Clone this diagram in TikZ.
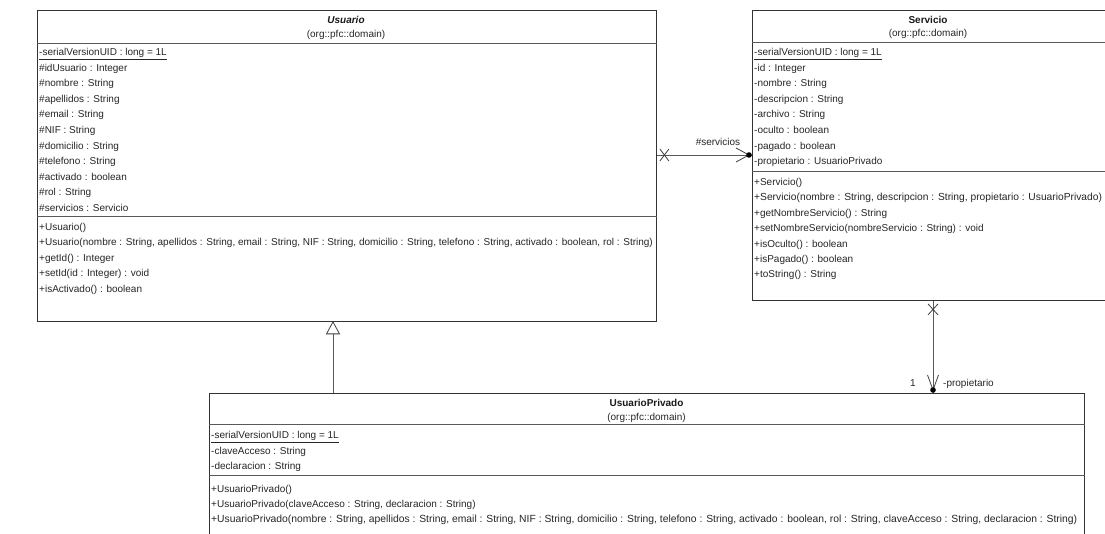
\documentclass[tikz,border=0pt]{standalone}
\usepackage{fontspec}
\setmainfont{Liberation Sans}
\usetikzlibrary{calc}
\begin{document}
\begin{tikzpicture}[x=1pt,y=-1pt,
  txt/.style={font=\fontsize{10}{12}\selectfont, inner sep=0pt, anchor=base west, text=black!85},
  ttl/.style={font=\fontsize{10}{12}\selectfont\bfseries, inner sep=0pt, anchor=base, text=black!90},
  pkg/.style={font=\fontsize{10}{12}\selectfont, inner sep=0pt, anchor=base, text=black!85},
  classbox/.style={draw=black!80, line width=0.9pt, fill=white, inner sep=0pt, anchor=north west},
  sep/.style={draw=black!65, line width=0.9pt},
  conn/.style={draw=black!65, line width=0.8pt},
  endglyph/.style={draw=black!75, line width=0.8pt},
]
\clip (0,0) rectangle (1105,534);
\fill[white] (0,0) rectangle (1105,534);

% ---------- class boxes ----------
\node[classbox, minimum width=619pt, minimum height=311pt] (usuario) at (37,10) {};
\node[classbox, minimum width=360pt, minimum height=290pt] (servicio) at (752,10) {};
\node[classbox, minimum width=875pt, minimum height=160pt] (uprivado) at (209,393) {};

% compartment separators
\draw[sep] (usuario.west |- 0,43) -- (usuario.east |- 0,43);
\draw[sep] (usuario.west |- 0,216) -- (usuario.east |- 0,216);
\draw[sep] (servicio.west |- 0,42) -- (servicio.east |- 0,42);
\draw[sep] (servicio.west |- 0,171) -- (servicio.east |- 0,171);
\draw[sep] (uprivado.west |- 0,424) -- (uprivado.east |- 0,424);
\draw[sep] (uprivado.west |- 0,475) -- (uprivado.east |- 0,475);

% ---------- Usuario ----------
\node[ttl, font=\fontsize{10}{12}\selectfont\bfseries\itshape] (u-name) at (346,23.5) {Usuario};
\node[pkg] (u-pkg) at (346,38) {(org::pfc::domain)};
\node[txt] (u-uid) at (39,55.5) {\underline{-serialVersionUID : long = 1L}};
\foreach \t [count=\i] in {{\#idUsuario : Integer},{\#nombre : String},{\#apellidos : String},
  {\#email : String},{\#NIF : String},{\#domicilio : String},{\#telefono : String},
  {\#activado : boolean},{\#rol : String},{\#servicios : Servicio}}
  \node[txt] (u-a\i) at (39,{55.5+15.6*\i}) {\t};
\foreach \t [count=\i from 0] in {{+Usuario()},
  {+Usuario(nombre : String, apellidos : String, email : String, NIF : String, domicilio : String, telefono : String, activado : boolean, rol : String)},
  {+getId() : Integer},{+setId(id : Integer) : void},{+isActivado() : boolean}}
  \node[txt] (u-m\i) at (39,{230.5+15.5*\i}) {\t};

% ---------- Servicio ----------
\node[ttl] (s-name) at (928,23.5) {Servicio};
\node[pkg] (s-pkg) at (928,37) {(org::pfc::domain)};
\node[txt] (s-uid) at (754,55.5) {\underline{-serialVersionUID : long = 1L}};
\foreach \t [count=\i] in {{-id : Integer},{-nombre : String},{-descripcion : String},
  {-archivo : String},{-oculto : boolean},{-pagado : boolean},{-propietario : UsuarioPrivado}}
  \node[txt] (s-a\i) at (754,{55.5+15.6*\i}) {\t};
\node[txt] (s-m0) at (754,185.5) {+Servicio()};
\node[txt, font=\fontsize{10.25}{12}\selectfont] (s-m1) at (754,200.9)
  {+Servicio(nombre : String, descripcion : String, propietario : UsuarioPrivado)};
\foreach \t [count=\i from 2] in {{+getNombreServicio() : String},
  {+setNombreServicio(nombreServicio : String) : void},
  {+isOculto() : boolean},{+isPagado() : boolean},{+toString() : String}}
  \node[txt] (s-m\i) at (754,{185.5+15.4*\i}) {\t};

% ---------- UsuarioPrivado ----------
\node[ttl] (p-name) at (646.5,406) {UsuarioPrivado};
\node[pkg] (p-pkg) at (646.5,420) {(org::pfc::domain)};
\node[txt] (p-uid) at (211,438.5) {\underline{-serialVersionUID : long = 1L}};
\foreach \t [count=\i] in {{-claveAcceso : String},{-declaracion : String}}
  \node[txt] (p-a\i) at (211,{438.5+15.5*\i}) {\t};
\node[txt] (p-m0) at (211,492) {+UsuarioPrivado()};
\node[txt] (p-m1) at (211,507.3) {+UsuarioPrivado(claveAcceso : String, declaracion : String)};
\node[txt, font=\fontsize{10.35}{12}\selectfont] (p-m2) at (211,522.6)
  {+UsuarioPrivado(nombre : String, apellidos : String, email : String, NIF : String, domicilio : String, telefono : String, activado : boolean, rol : String, claveAcceso : String, declaracion : String)};

% ---------- generalization UsuarioPrivado -> Usuario ----------
\coordinate (g-tip) at (usuario.south -| 333,0);
\coordinate (g-base) at ($(g-tip)+(0,12)$);
\draw[conn] (uprivado.north -| g-tip) -- (g-base);
\draw[endglyph, fill=white] (g-tip) -- ($(g-base)+(-6.5,0)$) -- ($(g-base)+(6.5,0)$) -- cycle;

% ---------- association Usuario -> Servicio ----------
\coordinate (a-start) at (usuario.east |- 0,155);
\coordinate (a-end) at (servicio.west |- 0,155);
\draw[conn] (a-start) -- (a-end);
\draw[endglyph] ($(a-start)+(3,-6)$) -- ($(a-start)+(12,6)$)
            ($(a-start)+(3,6)$) -- ($(a-start)+(12,-6)$);
\draw[endglyph] ($(a-end)+(-16,-7)$) -- ($(a-end)+(-3,0)$) -- ($(a-end)+(-16,7)$);
\fill[black] ($(a-end)+(-3,0)$) circle (2.8);
\node[pkg, anchor=base] (a-role) at (718,145.5) {\#servicios};

% ---------- association Servicio -> UsuarioPrivado ----------
\coordinate (b-start) at (servicio.south -| 933,0);
\coordinate (b-end) at (uprivado.north -| 933,0);
\draw[conn] (b-start) -- (b-end);
\draw[endglyph] ($(b-start)+(-5,3)$) -- ($(b-start)+(5,14)$)
            ($(b-start)+(5,3)$) -- ($(b-start)+(-5,14)$);
\draw[endglyph] ($(b-end)+(-5.5,-18)$) -- ($(b-end)+(0,-3)$) -- ($(b-end)+(5.5,-18)$);
\fill[black] ($(b-end)+(0,-3)$) circle (2.8);
\node[pkg, anchor=base] (b-mult) at (913,386.5) {1};
\node[txt] (b-role) at (943,386.5) {-propietario};
\end{tikzpicture}
\end{document}
